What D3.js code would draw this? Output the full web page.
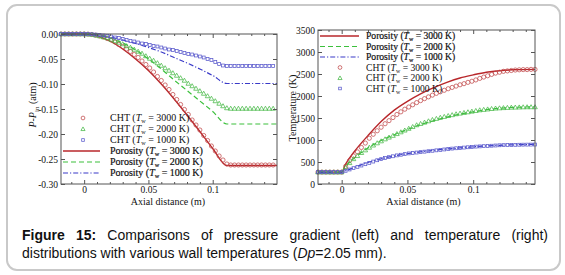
<!DOCTYPE html>
<html lang="en">
<head>
<meta charset="UTF-8">
<script src="https://d3js.org/d3.v7.min.js"></script>
<style>
    body {margin: 0; background: #fff;}
    svg text {font-family: "Liberation Serif", "Times New Roman", serif; fill: #111;}
</style>
</head>
<body>
<svg id="fig" width="565" height="275"></svg>
<script>
// ---- data ----
// CHT sample positions (m), shared by both panels
const chtX = [-0.018,-0.015,-0.012,-0.009,-0.006,-0.003,0,0.003,0.006,0.009,0.012,0.015,0.018,0.021,0.024,0.027,0.03,0.033,0.036,0.039,0.042,0.045,0.048,0.051,0.054,0.057,0.06,0.063,0.066,0.069,0.072,0.075,0.078,0.081,0.084,0.087,0.09,0.093,0.096,0.099,0.102,0.105,0.108,0.111,0.114,0.117,0.12,0.123,0.126,0.129,0.132,0.135,0.138,0.141,0.144,0.147];

// left panel: P - P_in (atm)
const presCht3000 = [0,0,0,0,0,0,0,-0.0003,-0.001,-0.0025,-0.004,-0.006,-0.009,-0.012,-0.016,-0.021,-0.025,-0.03,-0.035,-0.041,-0.047,-0.054,-0.061,-0.068,-0.076,-0.085,-0.093,-0.102,-0.111,-0.121,-0.131,-0.141,-0.151,-0.161,-0.172,-0.182,-0.192,-0.203,-0.213,-0.224,-0.234,-0.244,-0.252,-0.26,-0.262,-0.262,-0.262,-0.262,-0.262,-0.262,-0.262,-0.262,-0.262,-0.262,-0.262,-0.262];
const presCht2000 = [0,0,0,0,0,0,0,-0.0004,-0.001,-0.0025,-0.004,-0.006,-0.008,-0.011,-0.014,-0.017,-0.02,-0.024,-0.027,-0.031,-0.035,-0.039,-0.044,-0.049,-0.053,-0.058,-0.063,-0.068,-0.073,-0.078,-0.083,-0.088,-0.093,-0.099,-0.104,-0.109,-0.114,-0.119,-0.124,-0.129,-0.134,-0.139,-0.144,-0.148,-0.149,-0.149,-0.149,-0.149,-0.149,-0.149,-0.149,-0.149,-0.149,-0.149,-0.149,-0.149];
const presCht1000 = [0,0,0,0,0,0,0,-0.0002,-0.0006,-0.0012,-0.002,-0.003,-0.004,-0.005,-0.007,-0.008,-0.01,-0.012,-0.014,-0.015,-0.017,-0.019,-0.02,-0.022,-0.024,-0.025,-0.027,-0.029,-0.031,-0.032,-0.034,-0.036,-0.038,-0.04,-0.041,-0.043,-0.045,-0.047,-0.05,-0.052,-0.056,-0.06,-0.063,-0.064,-0.064,-0.064,-0.064,-0.064,-0.064,-0.064,-0.064,-0.064,-0.064,-0.064,-0.064,-0.064];
const presLineX = [-0.018,0,0.01,0.02,0.03,0.04,0.05,0.06,0.07,0.08,0.09,0.1,0.111,0.15];
const presPor3000 = [0,0,-0.004,-0.014,-0.03,-0.05,-0.073,-0.1,-0.13,-0.162,-0.195,-0.229,-0.263,-0.263];
const presPor2000 = [0,0,-0.002,-0.008,-0.018,-0.032,-0.05,-0.07,-0.092,-0.113,-0.134,-0.155,-0.18,-0.18];
const presPor1000 = [0,0,-0.002,-0.006,-0.012,-0.019,-0.027,-0.036,-0.047,-0.058,-0.07,-0.083,-0.099,-0.099];
const presTicks = [0,-0.05,-0.1,-0.15,-0.2,-0.25,-0.3];

// right panel: temperature (K)
const tempCht3000 = [270,270,270,270,270,270,270,400,530,640,730,830,930,1040,1130,1210,1290,1370,1440,1510,1580,1640,1700,1750,1800,1850,1895,1940,1980,2020,2060,2095,2130,2165,2195,2225,2255,2280,2310,2335,2365,2400,2430,2460,2490,2520,2540,2560,2570,2580,2590,2595,2600,2600,2605,2605];
const tempCht2000 = [270,270,270,270,270,270,270,380,480,570,640,710,770,830,880,930,975,1020,1060,1100,1140,1180,1220,1260,1300,1340,1370,1400,1430,1460,1485,1510,1530,1550,1570,1590,1605,1620,1635,1650,1665,1680,1690,1700,1710,1720,1725,1730,1735,1740,1742,1745,1748,1750,1750,1750];
const tempCht1000 = [270,270,270,270,270,270,270,300,330,360,390,420,450,480,510,540,565,590,610,630,650,665,680,695,705,715,725,735,745,755,765,775,785,795,805,812,820,828,835,842,850,855,860,865,870,875,880,883,886,888,890,892,894,895,896,897];
const tempLineX = [-0.018,0,0.003,0.01,0.02,0.03,0.04,0.05,0.06,0.07,0.08,0.09,0.1,0.11,0.12,0.13,0.147];
const tempPor3000 = [270,270,450,750,1100,1420,1680,1880,2050,2190,2310,2410,2480,2540,2575,2595,2605];
const tempPor2000 = [270,270,400,600,820,990,1120,1240,1350,1440,1520,1590,1640,1690,1720,1740,1755];
const tempPor1000 = [270,270,300,380,490,570,640,690,730,765,795,820,845,865,880,890,900];
const tempTicks = [0,500,1000,1500,2000,2500,3000,3500];

const xTicks = [0,0.05,0.1];
const xTickLabels = ["0","0.05","0.1"];
const xMinor = [-0.01,0.01,0.02,0.03,0.04,0.06,0.07,0.08,0.09,0.11,0.12,0.13,0.14];
const wallTemps = ["3000","2000","1000"];

const RED = "#b8272b", GREEN = "#3cc03c", BLUE = "#3a3ac8";
const colors = [RED, GREEN, BLUE];
const markColors = ["#c0484a", "#45b845", "#5858cc"];
const shapes = ["circle","triangle","square"];

const svg = d3.select("#fig");

// outer frame
svg.append("rect").attr("x", 7).attr("y", 5).attr("width", 553).attr("height", 265)
    .attr("rx", 10).attr("fill", "#fff").attr("stroke", "#c9c9c9").attr("stroke-width", 2);

function marker(g, shape, cx, cy, color, s) {
    if (shape === "circle") {
        g.append("circle").attr("cx", cx).attr("cy", cy).attr("r", 2.1*s)
            .attr("fill", "none").attr("stroke", color).attr("stroke-width", 0.75);
    } else if (shape === "triangle") {
        let h = 2.3*s;
        g.append("path").attr("d", `M${cx},${cy-h}L${cx+h},${cy+h*0.75}L${cx-h},${cy+h*0.75}Z`)
            .attr("fill", "none").attr("stroke", color).attr("stroke-width", 0.75);
    } else {
        let h = 1.45*s;
        g.append("rect").attr("x", cx-h).attr("y", cy-h).attr("width", 2*h).attr("height", 2*h)
            .attr("fill", "none").attr("stroke", color).attr("stroke-width", 0.75);
    }
}

function twLabel(t, name, temp, size) {
    t.append("tspan").text(name + " (");
    t.append("tspan").attr("font-style", "italic").text("T");
    t.append("tspan").attr("font-size", size*0.62).attr("dy", 2).text("w");
    t.append("tspan").attr("dy", -2).text(" = " + temp + " K)");
}

function dashFor(i) { return i === 0 ? null : (i === 1 ? "5,3" : "5,2,1.2,2"); }

function panel(cfg) {
    let x = d3.scaleLinear().domain(cfg.xDomain).range([cfg.x0, cfg.x1]);
    let y = d3.scaleLinear().domain(cfg.yDomain).range([cfg.y1, cfg.y0]);
    let g = svg.append("g");

    // porosity lines
    let line = d3.line().x((d, i) => x(cfg.lineX[i])).y(d => y(d)).curve(d3.curveMonotoneX);
    cfg.lines.forEach((vals, i) => {
        g.append("path").attr("d", line(vals)).attr("fill", "none")
            .attr("stroke", colors[i]).attr("stroke-width", i === 0 ? 1.4 : 1.2)
            .attr("stroke-dasharray", dashFor(i));
    });
    // CHT markers
    cfg.cht.forEach((vals, i) => {
        let mg = g.append("g");
        vals.forEach((v, k) => marker(mg, shapes[i], x(chtX[k]), y(v), markColors[i], 1));
    });

    // frame + ticks
    g.append("rect").attr("x", cfg.x0).attr("y", cfg.y0).attr("width", cfg.x1 - cfg.x0)
        .attr("height", cfg.y1 - cfg.y0).attr("fill", "none").attr("stroke", "#555").attr("stroke-width", 1);

    g.append("g").attr("transform", `translate(0,${cfg.y1})`)
        .call(d3.axisBottom(x).tickValues(xTicks).tickSize(-4).tickPadding(2)
            .tickFormat((d, i) => xTickLabels[i]));
    g.append("g").attr("transform", `translate(0,${cfg.y1})`)
        .call(d3.axisBottom(x).tickValues(xMinor).tickSize(-2).tickFormat(""));
    g.append("g").attr("transform", `translate(0,${cfg.y0})`)
        .call(d3.axisTop(x).tickValues(xTicks).tickSize(-4).tickFormat(""));
    g.append("g").attr("transform", `translate(0,${cfg.y0})`)
        .call(d3.axisTop(x).tickValues(xMinor).tickSize(-2).tickFormat(""));
    g.append("g").attr("transform", `translate(${cfg.x0},0)`)
        .call(d3.axisLeft(y).tickValues(cfg.yTicks).tickSize(-4).tickPadding(3).tickFormat(cfg.yFormat));
    g.append("g").attr("transform", `translate(${cfg.x1},0)`)
        .call(d3.axisRight(y).tickValues(cfg.yTicks).tickSize(-4).tickFormat(""));
    g.selectAll(".domain").remove();
    g.selectAll(".tick line").attr("stroke", "#555");
    g.selectAll(".tick text").attr("font-size", 9.5).attr("font-family", "Liberation Serif");

    g.append("text").attr("x", (cfg.x0 + cfg.x1) / 2 + cfg.xLabelShift).attr("y", 204.5)
        .attr("text-anchor", "middle").attr("font-size", 10).text("Axial distance (m)");
    return {x: x, y: y, g: g};
}

// left: pressure
panel({
    x0: 61, x1: 277, y0: 34, y1: 184,
    xDomain: [-0.018, 0.15], yDomain: [-0.30, 0],
    lineX: presLineX, lines: [presPor3000, presPor2000, presPor1000],
    cht: [presCht3000, presCht2000, presCht1000],
    yTicks: presTicks, yFormat: d => d.toFixed(2), xLabelShift: -1
});
let yl = svg.append("text").attr("transform", "translate(36,105) rotate(-90)")
    .attr("text-anchor", "middle").attr("font-size", 10);
yl.append("tspan").attr("font-style", "italic").text("P");
yl.append("tspan").text("-");
yl.append("tspan").attr("font-style", "italic").text("P");
yl.append("tspan").attr("font-size", 7).attr("dy", 2.5).text("in");
yl.append("tspan").attr("dy", -2.5).text(" (atm)");

// right: temperature
panel({
    x0: 318, x1: 535, y0: 30, y1: 184,
    xDomain: [-0.018, 0.147], yDomain: [0, 3500],
    lineX: tempLineX, lines: [tempPor3000, tempPor2000, tempPor1000],
    cht: [tempCht3000, tempCht2000, tempCht1000],
    yTicks: tempTicks, yFormat: d => String(d), xLabelShift: -3
});
svg.append("text").attr("transform", "translate(296,108) rotate(-90)")
    .attr("text-anchor", "middle").attr("font-size", 10).text("Temperature (K)");

// legends
function legend(rows, yStart, step, lineX0, lineX1, markX, textX, size) {
    rows.forEach((r, j) => {
        let cy = yStart + j * step;
        if (r.kind === "line") {
            svg.append("line").attr("x1", lineX0).attr("x2", lineX1).attr("y1", cy).attr("y2", cy)
                .attr("stroke", colors[r.i]).attr("stroke-width", r.i === 0 ? 1.4 : 1.2)
                .attr("stroke-dasharray", dashFor(r.i));
        } else {
            marker(svg, shapes[r.i], markX, cy, markColors[r.i], 0.9);
        }
        let t = svg.append("text").attr("x", textX).attr("y", cy + 3.2).attr("font-size", size);
        if (r.kind === "line") t.attr("stroke", "#111").attr("stroke-width", 0.2);
        twLabel(t, r.kind === "line" ? "Porosity" : "CHT", wallTemps[r.i], size);
    });
}
legend([{kind:"m",i:0},{kind:"m",i:1},{kind:"m",i:2},{kind:"line",i:0},{kind:"line",i:1},{kind:"line",i:2}],
    118, 11, 63, 100, 83, 110, 10);
legend([{kind:"line",i:0},{kind:"line",i:1},{kind:"line",i:2},{kind:"m",i:0},{kind:"m",i:1},{kind:"m",i:2}],
    36, 10.5, 320, 359, 340, 366, 9.6);

// caption
let c1 = svg.append("text").attr("x", 22).attr("y", 240).attr("font-size", 14)
    .style("font-family", "Liberation Sans, Arial, sans-serif");
c1.append("tspan").attr("font-weight", "bold").text("Figure 15:");
c1.append("tspan").text(" Comparisons of pressure gradient (left) and temperature (right)");
let natural = c1.node().getComputedTextLength();
c1.attr("word-spacing", (526 - natural) / 9);
let c2 = svg.append("text").attr("x", 22).attr("y", 258).attr("font-size", 14)
    .style("font-family", "Liberation Sans, Arial, sans-serif");
c2.append("tspan").text("distributions with various wall temperatures (");
c2.append("tspan").attr("font-style", "italic").text("Dp");
c2.append("tspan").text("=2.05 mm).");
</script>
</body>
</html>
